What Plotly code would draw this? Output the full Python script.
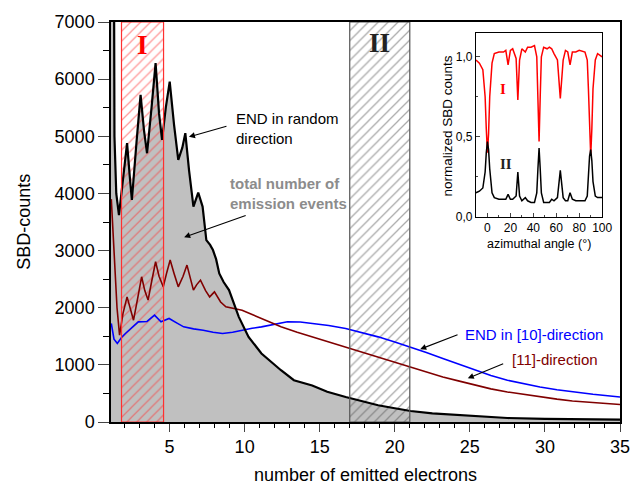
import plotly.graph_objects as go

# ---------------- main data ----------------
random_x = [1.05, 1.3, 1.33, 1.45, 1.63, 1.9, 2.17, 2.35, 2.49, 2.8, 3.07, 3.3, 3.5, 3.8, 4.07,
            4.3, 4.5, 4.75, 5.01, 5.3, 5.58, 5.85, 6.05, 6.3, 6.59, 6.91, 7.2, 7.45, 7.7, 7.89,
            8.1, 8.31, 8.6, 8.96, 9.3, 9.61, 10.26, 11.12, 12.42, 13.28, 14.5, 15.5, 16.73,
            17.8, 18.89, 20, 21.05, 22.5, 24.28, 26, 27.5, 30, 32.5, 35]
random_y = [8500, 8000, 5000, 4000, 3620, 4200, 4880, 4300, 3885, 4900, 5725, 5100, 4703, 5500,
            6280, 5400, 4937, 5500, 5958, 5200, 4587, 4800, 5054, 4400, 3768, 4013, 3770, 3184,
            3100, 3009, 2850, 2600, 2450, 2308, 2050, 1840, 1490, 1199, 906, 731, 640, 530, 438,
            360, 293, 240, 193, 150, 117, 90, 70, 55, 45, 40]

d11_x = [1.12, 1.3, 1.5, 1.67, 1.9, 2.17, 2.4, 2.6, 2.9, 3.14, 3.35, 3.57, 3.8, 4.07, 4.3, 4.58,
         4.8, 5.04, 5.3, 5.58, 5.9, 6.16, 6.4, 6.59, 6.8, 7.06, 7.4, 7.67, 7.99, 8.4, 8.75, 9.3,
         9.83, 10.5, 11.12, 12.42, 13.5, 14.5, 15.6, 16.73, 17.8, 18.89, 20, 21.05, 22.1, 23.2,
         24.3, 25.36, 26.4, 27.5, 28.6, 29.67, 30.8, 31.83, 33.2, 35]
d11_y = [3900, 3000, 2000, 1520, 1900, 2190, 1950, 1782, 2200, 2541, 2300, 2133, 2450, 2804, 2550,
         2366, 2600, 2834, 2600, 2366, 2550, 2746, 2500, 2308, 2400, 2483, 2300, 2190, 2278, 2100,
         2015, 1990, 1957, 1880, 1812, 1665, 1570, 1490, 1400, 1314, 1230, 1139, 1050, 964, 880,
         789, 715, 643, 580, 526, 480, 438, 400, 368, 340, 305]

d10_x = [1.12, 1.3, 1.52, 1.8, 2.06, 2.5, 2.92, 3.5, 4.0, 4.43, 4.97, 5.5, 5.94, 6.6, 7.24, 7.9,
         8.53, 9.2, 9.83, 10.5, 11.12, 12.0, 12.85, 13.7, 14.5, 15.6, 16.73, 17.8, 18.89, 20,
         21.05, 22.1, 23.2, 24.3, 25.36, 26.4, 27.5, 28.6, 29.67, 30.8, 31.83, 33.2, 35]
d10_y = [1724, 1450, 1374, 1480, 1549, 1650, 1753, 1760, 1870, 1753, 1812, 1730, 1665, 1630, 1607,
         1570, 1549, 1570, 1607, 1640, 1665, 1710, 1753, 1750, 1724, 1690, 1637, 1570, 1490, 1400,
         1314, 1215, 1111, 1005, 906, 815, 731, 668, 613, 565, 526, 485, 438]

region_I = [1.8, 4.6]
region_II = [17.0, 21.0]
x_ticks = [5, 10, 15, 20, 25, 30, 35]
y_ticks = [0, 1000, 2000, 3000, 4000, 5000, 6000, 7000]

# ---------------- inset data ----------------
angle = [-10, -7, -4, -2, -1, 0, 1, 2, 4, 6, 10, 14, 16, 18, 20, 22, 25, 26.5, 28, 30,
         33, 35, 38, 41, 43, 44, 45, 46, 47, 49, 52, 54, 56, 58, 61, 63.5, 66, 68, 70, 72,
         74, 77, 80, 85, 87, 88, 89, 90, 91, 92, 94, 96, 100]
inset_I = [0.98, 0.96, 0.92, 0.75, 0.55, 0.40, 0.52, 0.75, 0.96, 1.02, 1.03, 1.03, 1.04, 0.95,
           1.04, 1.05, 0.99, 0.73, 0.98, 1.05, 1.03, 1.06, 1.06, 1.07, 1.0, 0.75, 0.47, 0.75,
           1.0, 1.06, 1.05, 1.06, 1.05, 1.02, 0.98, 0.74, 0.98, 1.04, 1.03, 0.95, 1.03, 1.03,
           1.04, 1.03, 0.98, 0.8, 0.55, 0.38, 0.55, 0.8, 0.98, 1.02, 1.0]
inset_II = [0.15, 0.16, 0.18, 0.28, 0.40, 0.47, 0.42, 0.30, 0.15, 0.12, 0.11, 0.11, 0.11, 0.14,
            0.11, 0.11, 0.13, 0.28, 0.13, 0.10, 0.12, 0.10, 0.09, 0.09, 0.15, 0.30, 0.43, 0.30,
            0.15, 0.09, 0.09, 0.09, 0.11, 0.10, 0.12, 0.29, 0.12, 0.10, 0.10, 0.15, 0.11, 0.10,
            0.10, 0.10, 0.13, 0.25, 0.38, 0.42, 0.35, 0.22, 0.13, 0.12, 0.12]
inset_yticks = [0, 0.5, 1.0]
inset_yticktext = ["0,0", "0,5", "1,0"]
inset_xticks = [0, 20, 40, 60, 80, 100]

FONT = "Arial, Liberation Sans, sans-serif"
SERIF = "Times New Roman, Liberation Serif, serif"
XR = [1.1, 35]
YR = [0, 7000]
RED_HATCH = "#ff3030"
GREY_HATCH = "#555555"

fig = go.Figure()

# grey area (total number of emission events) on base subplot
fig.add_trace(go.Scatter(x=random_x, y=random_y, mode="lines", fill="tozeroy",
                         fillcolor="#c0c0c0", line=dict(width=0, color="#c0c0c0"),
                         xaxis="x", yaxis="y", showlegend=False, hoverinfo="skip"))

# hatched regions on overlay subplot
for reg, col in [(region_I, RED_HATCH), (region_II, GREY_HATCH)]:
    fig.add_trace(go.Bar(x=[(reg[0] + reg[1]) / 2], y=[YR[1]], width=[reg[1] - reg[0]],
                         xaxis="x3", yaxis="y3",
                         marker=dict(color="rgba(0,0,0,0)",
                                     line=dict(color=col, width=0),
                                     pattern=dict(shape="/", fgcolor=col, size=7, solidity=0.18,
                                                  fillmode="overlay")),
                         showlegend=False, hoverinfo="skip"))

fig.add_trace(go.Scatter(x=d10_x, y=d10_y, mode="lines", line=dict(color="#0000ff", width=1.6),
                         xaxis="x3", yaxis="y3", showlegend=False))
fig.add_trace(go.Scatter(x=d11_x, y=d11_y, mode="lines", line=dict(color="#800000", width=1.6),
                         xaxis="x3", yaxis="y3", showlegend=False))
fig.add_trace(go.Scatter(x=random_x, y=random_y, mode="lines", line=dict(color="black", width=2.2),
                         xaxis="x3", yaxis="y3", showlegend=False))

# inset
fig.add_trace(go.Scatter(x=angle, y=inset_I, mode="lines", line=dict(color="#ff0000", width=1.5),
                         xaxis="x2", yaxis="y2", showlegend=False))
fig.add_trace(go.Scatter(x=angle, y=inset_II, mode="lines", line=dict(color="black", width=1.5),
                         xaxis="x2", yaxis="y2", showlegend=False))

fig.update_layout(
    width=642, height=484,
    margin=dict(l=111, r=12, t=22, b=62),
    paper_bgcolor="white", plot_bgcolor="white",
    font=dict(family=FONT, color="black", size=18),
    barmode="overlay", bargap=0,
    xaxis=dict(range=XR, tickvals=x_ticks, showline=True, mirror=True, linecolor="black",
               linewidth=1.5, ticks="outside", ticklen=8, tickwidth=1.2, showgrid=False,
               zeroline=False, tickfont=dict(size=18),
               minor=dict(dtick=1, tick0=0, ticks="outside", ticklen=4, tickcolor="black")),
    yaxis=dict(range=YR, tickvals=y_ticks, showline=True, mirror=True, linecolor="black",
               linewidth=1.5, ticks="outside", ticklen=11, tickwidth=1.2, showgrid=False,
               zeroline=False, tickfont=dict(size=18),
               minor=dict(dtick=500, ticks="outside", ticklen=6, tickcolor="black")),
    xaxis3=dict(range=XR, overlaying="x", visible=False),
    yaxis3=dict(range=YR, overlaying="y", visible=False),
    xaxis2=dict(domain=[0.717, 0.965], anchor="y2", range=[-10, 100], tickvals=inset_xticks,
                showline=True, mirror=True, linecolor="black", linewidth=1.2, ticks="inside",
                ticklen=4, showgrid=False, zeroline=False, tickfont=dict(size=12),
                minor=dict(dtick=10, ticks="inside", ticklen=2)),
    yaxis2=dict(domain=[0.513, 0.973], anchor="x2", range=[0, 1.15], tickvals=inset_yticks,
                ticktext=inset_yticktext, showline=True, mirror=True, linecolor="black",
                linewidth=1.2, ticks="inside", ticklen=4, showgrid=False, zeroline=False,
                tickfont=dict(size=12), minor=dict(dtick=0.25, ticks="inside", ticklen=2)),
)

# outlines of the hatched regions
shapes = []
for reg, col in [(region_I, RED_HATCH), (region_II, GREY_HATCH)]:
    shapes.append(dict(type="rect", xref="x", yref="y", x0=reg[0], x1=reg[1], y0=YR[0], y1=YR[1],
                       line=dict(color=col, width=1.2), fillcolor="rgba(0,0,0,0)", layer="above"))
fig.update_layout(shapes=shapes)

ann = []
# axis titles
ann.append(dict(text="number of emitted electrons", xref="paper", yref="paper", x=0.5, y=-0.1325,
                xanchor="center", yanchor="middle", showarrow=False, font=dict(size=18)))
ann.append(dict(text="SBD-counts", xref="paper", yref="paper", x=-0.1715, y=0.5, textangle=-90,
                xanchor="center", yanchor="middle", showarrow=False, font=dict(size=18)))
# inset titles
ann.append(dict(text="azimuthal angle (°)", xref="paper", yref="paper", x=0.841, y=0.4455,
                xanchor="center", yanchor="middle", showarrow=False, font=dict(size=12.5)))
ann.append(dict(text="normalized SBD counts", xref="paper", yref="paper", x=0.661, y=0.74,
                textangle=-90, xanchor="center", yanchor="middle", showarrow=False,
                font=dict(size=13.5)))
# region labels
ann.append(dict(text="<b>I</b>", x=3.2, y=6600, xref="x", yref="y", showarrow=False,
                font=dict(family=SERIF, size=27, color="#ff0000")))
ann.append(dict(text="<b>II</b>", x=19.0, y=6640, xref="x", yref="y", showarrow=False,
                font=dict(family=SERIF, size=27, color="#222222")))
ann.append(dict(text="<b>I</b>", x=13.5, y=0.80, xref="x2", yref="y2", showarrow=False,
                font=dict(family=SERIF, size=15, color="#ff0000")))
ann.append(dict(text="<b>II</b>", x=16.5, y=0.33, xref="x2", yref="y2", showarrow=False,
                font=dict(family=SERIF, size=15, color="#222222")))
# curve labels
ann.append(dict(text="END in random<br>direction", x=9.3, y=5129, xref="x", yref="y",
                xanchor="left", yanchor="middle", align="left", showarrow=False,
                font=dict(size=15, color="black")))
ann.append(dict(text="<b>total number of<br>emission events</b>", x=8.9, y=4005, xref="x",
                yref="y", xanchor="left", yanchor="middle", align="left", showarrow=False,
                font=dict(size=15, color="#8c8c8c")))
ann.append(dict(text="END in [10]-direction", x=24.55, y=1537, xref="x", yref="y",
                xanchor="left", yanchor="middle", showarrow=False,
                font=dict(size=15, color="#0000ff")))
ann.append(dict(text="[11]-direction", x=27.7, y=1100, xref="x", yref="y",
                xanchor="left", yanchor="middle", showarrow=False,
                font=dict(size=15, color="#800000")))
# arrows (head at curve, tail near text)
for hx, hy, tx, ty in [(6.29, 4990, 8.89, 5183), (5.97, 3234, 10.17, 3622),
                       (21.69, 1274, 24.28, 1537), (24.86, 765, 27.32, 1029)]:
    ann.append(dict(x=hx, y=hy, ax=tx, ay=ty, xref="x", yref="y", axref="x", ayref="y",
                    text="", showarrow=True, arrowhead=2, arrowsize=1.1, arrowwidth=1.1,
                    arrowcolor="black"))
fig.update_layout(annotations=ann)

fig.write_html("out.html")
